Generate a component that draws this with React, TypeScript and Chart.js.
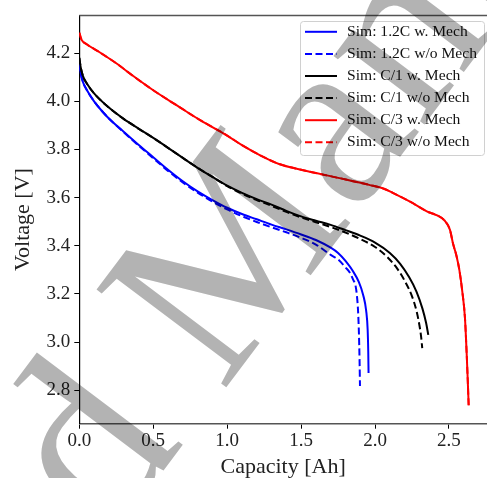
import React, { useEffect, useRef } from "react";
import { Chart, registerables } from "chart.js";

Chart.register(...registerables);

// ---- data ----
const seriesLabels = [
  "Sim: 1.2C w. Mech",
  "Sim: 1.2C w/o Mech",
  "Sim: C/1 w. Mech",
  "Sim: C/1 w/o Mech",
  "Sim: C/3 w. Mech",
  "Sim: C/3 w/o Mech",
];

const blueSolidX = [0, 0.01, 0.025, 0.05, 0.1, 0.15, 0.2, 0.3, 0.4, 0.5, 0.6, 0.7, 0.8, 0.9, 1.0, 1.1, 1.2, 1.3, 1.4, 1.5, 1.6, 1.7, 1.75, 1.8, 1.85, 1.89, 1.92, 1.94, 1.95, 1.954, 1.956];
const blueSolidY = [4.155, 4.115, 4.08, 4.048, 4.0, 3.962, 3.929, 3.874, 3.82, 3.768, 3.716, 3.668, 3.626, 3.59, 3.558, 3.532, 3.51, 3.488, 3.468, 3.447, 3.424, 3.392, 3.37, 3.337, 3.295, 3.25, 3.195, 3.13, 3.05, 2.96, 2.872];

const blueDashX = [0, 0.01, 0.025, 0.05, 0.1, 0.15, 0.2, 0.3, 0.4, 0.5, 0.6, 0.7, 0.8, 0.9, 1.0, 1.1, 1.2, 1.3, 1.4, 1.5, 1.6, 1.7, 1.75, 1.8, 1.83, 1.855, 1.866, 1.877, 1.885, 1.891, 1.895, 1.898];
const blueDashY = [4.155, 4.115, 4.08, 4.048, 4.0, 3.962, 3.929, 3.872, 3.817, 3.764, 3.711, 3.663, 3.621, 3.584, 3.551, 3.523, 3.499, 3.477, 3.456, 3.433, 3.405, 3.362, 3.343, 3.31, 3.288, 3.255, 3.24, 3.195, 3.13, 3.035, 2.93, 2.818];

const blackSolidX = [0, 0.01, 0.025, 0.05, 0.1, 0.2, 0.3, 0.4, 0.5, 0.6, 0.7, 0.8, 0.9, 1.0, 1.1, 1.2, 1.3, 1.4, 1.5, 1.6, 1.7, 1.8, 1.9, 2.0, 2.1, 2.17, 2.23, 2.28, 2.32, 2.345, 2.36];
const blackSolidY = [4.18, 4.14, 4.105, 4.075, 4.033, 3.974, 3.927, 3.887, 3.848, 3.807, 3.765, 3.724, 3.686, 3.65, 3.62, 3.594, 3.571, 3.545, 3.522, 3.504, 3.487, 3.465, 3.442, 3.413, 3.37, 3.325, 3.27, 3.21, 3.14, 3.08, 3.03];

const blackDashX = [0, 0.01, 0.025, 0.05, 0.1, 0.2, 0.3, 0.4, 0.5, 0.6, 0.7, 0.8, 0.9, 1.0, 1.1, 1.2, 1.3, 1.4, 1.5, 1.6, 1.7, 1.8, 1.9, 2.0, 2.08, 2.15, 2.2, 2.25, 2.28, 2.3, 2.312, 2.319];
const blackDashY = [4.18, 4.14, 4.105, 4.075, 4.033, 3.974, 3.927, 3.887, 3.848, 3.807, 3.765, 3.724, 3.686, 3.648, 3.617, 3.59, 3.566, 3.541, 3.518, 3.498, 3.478, 3.455, 3.428, 3.395, 3.355, 3.305, 3.255, 3.19, 3.13, 3.07, 3.02, 2.975];

const redSolidX = [0, 0.008, 0.016, 0.05, 0.14, 0.25, 0.365, 0.5, 0.66, 0.82, 1.0, 1.1, 1.22, 1.35, 1.5, 1.76, 1.96, 2.06, 2.12, 2.24, 2.35, 2.42, 2.47, 2.506, 2.528, 2.55, 2.57, 2.59, 2.608, 2.619, 2.626, 2.633];
const redSolidY = [4.285, 4.268, 4.255, 4.237, 4.203, 4.158, 4.105, 4.046, 3.983, 3.921, 3.858, 3.818, 3.777, 3.74, 3.716, 3.681, 3.653, 3.637, 3.62, 3.582, 3.543, 3.526, 3.505, 3.467, 3.407, 3.36, 3.3, 3.21, 3.1, 2.96, 2.855, 2.738];

const redDashX = [0, 0.008, 0.016, 0.05, 0.14, 0.25, 0.365, 0.5, 0.66, 0.82, 1.0, 1.1, 1.22, 1.35, 1.5, 1.76, 1.96, 2.06, 2.12, 2.24, 2.35, 2.42, 2.47, 2.506, 2.528, 2.55, 2.57, 2.59, 2.608, 2.619, 2.626, 2.633];
const redDashY = [4.285, 4.268, 4.255, 4.237, 4.203, 4.158, 4.105, 4.046, 3.983, 3.921, 3.858, 3.818, 3.777, 3.74, 3.716, 3.681, 3.653, 3.637, 3.62, 3.582, 3.543, 3.526, 3.505, 3.467, 3.407, 3.36, 3.3, 3.21, 3.1, 2.96, 2.855, 2.738];

const xTicks = [0, 0.5, 1.0, 1.5, 2.0, 2.5];
const yTicks = [2.8, 3.0, 3.2, 3.4, 3.6, 3.8, 4.0, 4.2];
const X_MIN = 0;
const X_MAX = 2.757;
const Y_MIN = 2.661;
const Y_MAX = 4.357;

const xTitle = "Capacity [Ah]";
const yTitle = "Voltage [V]";
const watermarkText = "Accepted Manuscript";
const watermarkLead = "Accepted ";

// ---- styles ----
const FONT = '"Liberation Serif", "DejaVu Serif", serif';
const DASH = [7, 3.5];

const zip = (xs: number[], ys: number[]) => xs.map((x, i) => ({ x, y: ys[i] }));

const insideLegend = {
  id: "insideLegend",
  afterDatasetsDraw(chart: any) {
    const ctx = chart.ctx as CanvasRenderingContext2D;
    ctx.save();
    const x0 = 300.5, y0 = 21.5, w = 184, h = 134, r = 3;
    ctx.beginPath();
    ctx.moveTo(x0 + r, y0);
    ctx.lineTo(x0 + w - r, y0);
    ctx.quadraticCurveTo(x0 + w, y0, x0 + w, y0 + r);
    ctx.lineTo(x0 + w, y0 + h - r);
    ctx.quadraticCurveTo(x0 + w, y0 + h, x0 + w - r, y0 + h);
    ctx.lineTo(x0 + r, y0 + h);
    ctx.quadraticCurveTo(x0, y0 + h, x0, y0 + h - r);
    ctx.lineTo(x0, y0 + r);
    ctx.quadraticCurveTo(x0, y0, x0 + r, y0);
    ctx.closePath();
    ctx.fillStyle = "rgba(255,255,255,0.85)";
    ctx.fill();
    ctx.strokeStyle = "#d0d0d0";
    ctx.lineWidth = 1;
    ctx.stroke();
    chart.data.datasets.forEach((ds: any, i: number) => {
      const y = 31.8 + i * 22.1;
      ctx.beginPath();
      ctx.setLineDash(ds.borderDash || []);
      ctx.strokeStyle = ds.borderColor;
      ctx.lineWidth = 2;
      ctx.moveTo(305, y);
      ctx.lineTo(337, y);
      ctx.stroke();
      ctx.setLineDash([]);
      ctx.fillStyle = "#111";
      ctx.font = `15.6px ${FONT}`;
      ctx.textBaseline = "middle";
      ctx.textAlign = "left";
      ctx.fillText(ds.label, 347, y);
    });
    ctx.restore();
  },
};

const overlay = {
  id: "overlay",
  afterDraw(chart: any) {
    const ctx = chart.ctx as CanvasRenderingContext2D;
    const a = chart.chartArea;
    ctx.save();
    // top spine
    ctx.beginPath();
    ctx.strokeStyle = "#555";
    ctx.lineWidth = 1.5;
    ctx.moveTo(a.left, a.top);
    ctx.lineTo(chart.width, a.top);
    ctx.stroke();
    // watermark
    ctx.globalCompositeOperation = "multiply";
    ctx.fillStyle = "#b3b3b3";
    ctx.font = `248px ${FONT}`;
    const lead = ctx.measureText(watermarkLead).width;
    const th = (-53 * Math.PI) / 180;
    const mx = 222, my = 393;
    ctx.translate(mx - lead * Math.cos(th), my - lead * Math.sin(th));
    ctx.rotate(th);
    ctx.textBaseline = "alphabetic";
    ctx.textAlign = "left";
    ctx.fillText(watermarkText, 0, 0);
    ctx.restore();
  },
};

export default function App() {
  const ref = useRef<HTMLCanvasElement | null>(null);
  useEffect(() => {
    if (!ref.current) return;
    const mk = (label: string, xs: number[], ys: number[], color: string, dashed: boolean, order: number) => ({
      label,
      data: zip(xs, ys),
      borderColor: color,
      backgroundColor: color,
      borderWidth: 2,
      borderDash: dashed ? DASH : [],
      pointRadius: 0,
      cubicInterpolationMode: "monotone" as const,
      fill: false,
      order,
    });
    const chart = new Chart(ref.current, {
      type: "line",
      data: {
        datasets: [
          mk(seriesLabels[0], blueSolidX, blueSolidY, "#0000ff", false, 6),
          mk(seriesLabels[1], blueDashX, blueDashY, "#0000ff", true, 5),
          mk(seriesLabels[2], blackSolidX, blackSolidY, "#000000", false, 4),
          mk(seriesLabels[3], blackDashX, blackDashY, "#000000", true, 3),
          mk(seriesLabels[4], redSolidX, redSolidY, "#ff0000", false, 2),
          mk(seriesLabels[5], redDashX, redDashY, "#ff0000", true, 1),
        ],
      },
      options: {
        animation: false,
        responsive: false,
        maintainAspectRatio: false,
        layout: { padding: { top: 12.7, right: 0, left: 0, bottom: 0 } },
        plugins: { legend: { display: false }, tooltip: { enabled: false } },
        scales: {
          x: {
            type: "linear",
            min: X_MIN,
            max: X_MAX,
            afterBuildTicks: (s: any) => { s.ticks = xTicks.map((v) => ({ value: v })); },
            afterFit: (s: any) => { s.height = 54.3; },
            ticks: {
              callback: (v: any) => Number(v).toFixed(1),
              color: "#222",
              font: { family: FONT, size: 19 },
              padding: 1,
              maxRotation: 0,
              autoSkip: false,
            },
            grid: { drawOnChartArea: false, drawTicks: true, tickLength: 5, color: "#000", tickWidth: 1 },
            border: { display: true, color: "#555", width: 1.5 },
            title: { display: true, text: xTitle, color: "#222", font: { family: FONT, size: 22 }, padding: { top: 0, bottom: -2 } },
          },
          y: {
            type: "linear",
            min: Y_MIN,
            max: Y_MAX,
            afterBuildTicks: (s: any) => { s.ticks = yTicks.map((v) => ({ value: v })); },
            afterFit: (s: any) => { s.width = 79.3; },
            ticks: {
              callback: (v: any) => Number(v).toFixed(1),
              color: "#222",
              font: { family: FONT, size: 19 },
              padding: 4,
              autoSkip: false,
            },
            grid: { drawOnChartArea: false, drawTicks: true, tickLength: 5, color: "#000", tickWidth: 1 },
            border: { display: true, color: "#000", width: 1.2 },
            title: { display: true, text: yTitle, color: "#222", font: { family: FONT, size: 22 }, padding: { top: 10, bottom: 0 } },
          },
        },
      },
      plugins: [insideLegend, overlay],
    });
    return () => chart.destroy();
  }, []);
  return (
    <div style={{ position: "absolute", left: 0, top: 0, width: 487, height: 478, background: "#fff" }}>
      <canvas ref={ref} width={487} height={478} style={{ display: "block" }} />
    </div>
  );
}
